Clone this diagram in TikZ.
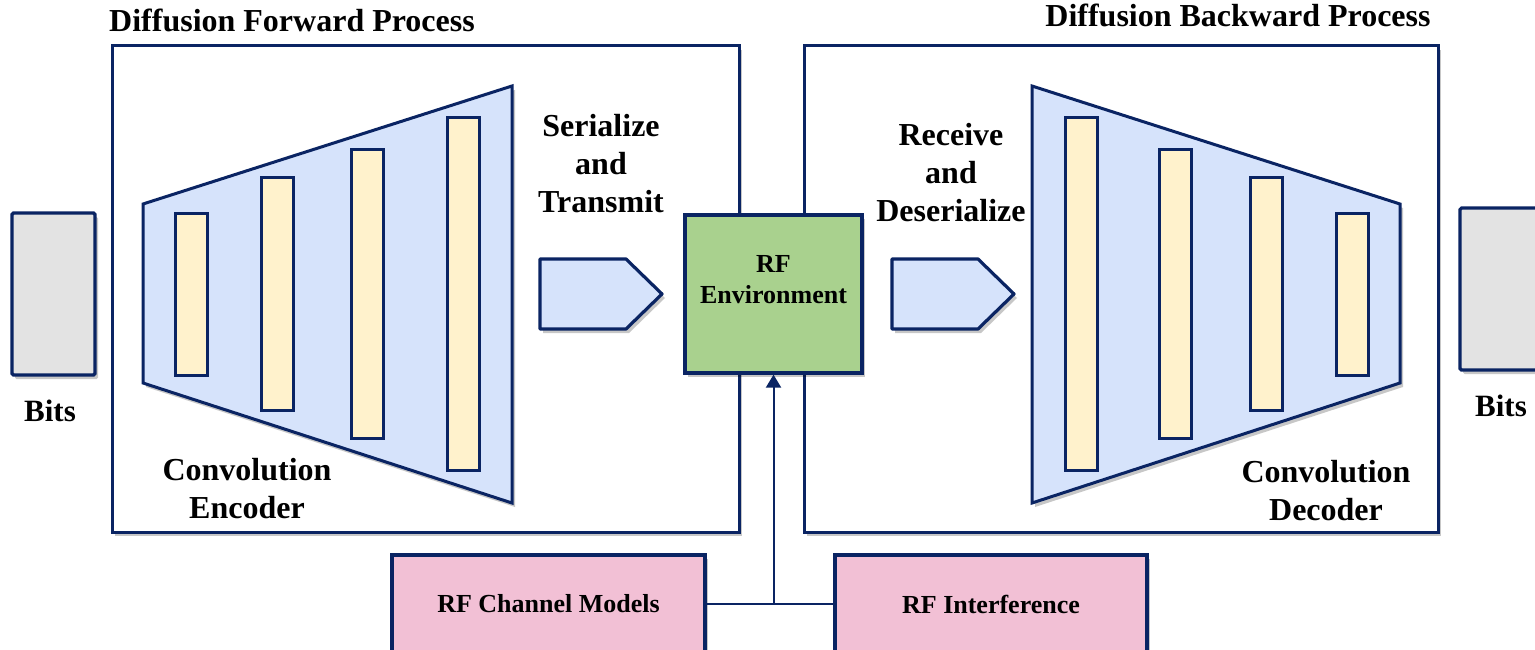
\documentclass[tikz,border=0pt]{standalone}
\usepackage{fontspec}
\setmainfont{Liberation Serif}
\usetikzlibrary{shadows,arrows.meta}
\definecolor{navy}{HTML}{0A2463}
\definecolor{lblue}{HTML}{D6E3FB}
\definecolor{lyellow}{HTML}{FFF2CC}
\definecolor{lgray}{HTML}{E3E3E3}
\definecolor{lgreen}{HTML}{A9D18E}
\definecolor{lpink}{HTML}{F2C0D5}
\tikzset{
  shad/.style={drop shadow={shadow xshift=3pt,shadow yshift=-4pt,opacity=0.22,fill=black}},
  bigbox/.style={draw=navy,line width=3pt,fill=white,shad,inner sep=0pt},
  bitbox/.style={draw=navy,line width=3.2pt,fill=lgray,shad,minimum width=83pt,minimum height=162pt,inner sep=0pt,rounded corners=1.5pt},
  bar/.style={draw=navy,line width=3pt,fill=lyellow,minimum width=32pt,inner sep=0pt},
  trap/.style={draw=navy,line width=3pt,fill=lblue,shad},
  pent/.style={draw=navy,line width=3.2pt,fill=lblue,shad,line join=round},
  envbox/.style={draw=navy,line width=3.2pt,fill=lgreen,shad,minimum width=177pt,minimum height=158pt,inner sep=0pt},
  boxtxt/.style={align=center,inner sep=0pt,font=\fontsize{26}{31}\selectfont\bfseries},
  pinkbox/.style={draw=navy,line width=3.2pt,fill=lpink,shad,minimum height=98pt,inner sep=0pt,font=\fontsize{26}{31}\selectfont\bfseries},
  lbl/.style={align=center,inner sep=0pt,font=\fontsize{32}{38}\selectfont\bfseries},
  conn/.style={draw=navy,line width=2pt},
}
\begin{document}
\begin{tikzpicture}[x=1pt,y=-1pt]
\useasboundingbox (0,0) rectangle (1535,650);
% big boxes
\node[bigbox,minimum width=627pt,minimum height=486pt] (fwd) at (425.5,289) {};
\node[bigbox,minimum width=634pt,minimum height=486pt] (bwd) at (1121,289) {};
% titles
\node[lbl] (tf) at (292,20) {Diffusion Forward Process};
\node[lbl] (tb) at (1238,15) {Diffusion Backward Process};
% bits
\node[bitbox] (bitsl) at (53.5,294) {};
\node[bitbox,minimum width=110pt] (bitsr) at (1515,289) {};
\node[lbl,font=\fontsize{31}{38}\selectfont\bfseries] (bl) at (50,411) {Bits};
\node[lbl,font=\fontsize{31}{38}\selectfont\bfseries] (br) at (1501,406) {Bits};
% encoder trapezoid
\draw[trap] (143,204) -- (512,86) -- (512,503) -- (143,383) -- cycle;
\node[bar,minimum height=162pt] (e1) at (191,294) {};
\node[bar,minimum height=232pt] (e2) at (277,294) {};
\node[bar,minimum height=288pt] (e3) at (367,294) {};
\node[bar,minimum height=352pt] (e4) at (463,294) {};
% decoder trapezoid
\draw[trap] (1032,86) -- (1400,204) -- (1400,383) -- (1032,503) -- cycle;
\node[bar,minimum height=352pt] (d1) at (1081,294) {};
\node[bar,minimum height=288pt] (d2) at (1175,294) {};
\node[bar,minimum height=232pt] (d3) at (1266,294) {};
\node[bar,minimum height=162pt] (d4) at (1352,294) {};
% labels
\node[lbl] (enc) at (247,489) {Convolution\\Encoder};
\node[lbl] (dec) at (1326,491) {Convolution\\Decoder};
\node[lbl] (ser) at (601,164) {Serialize\\and\\Transmit};
\node[lbl] (rec) at (951,173) {Receive\\and\\Deserialize};
% pentagons
\draw[pent] (540,259) -- (626,259) -- (662,294) -- (626,329) -- (540,329) -- cycle;
\draw[pent] (892,259) -- (978,259) -- (1014,294) -- (978,329) -- (892,329) -- cycle;
% RF env
\node[envbox] (env) at (773.5,294) {};
\node[boxtxt] (envtxt) at (773.5,280) {RF\\Environment};
% pink boxes
\node[pinkbox,minimum width=313pt] (chan) at (548.5,604) {RF Channel Models};
\node[pinkbox,minimum width=312pt] (intf) at (991,604) {RF Interference};
% connectors
\coordinate (j) at (env.south |- chan.east);
\draw[conn] (chan.east) -- (intf.west);
\draw[conn,-{Triangle[width=15pt,length=13pt]}] (j) -- (env.south);
\end{tikzpicture}
\end{document}
